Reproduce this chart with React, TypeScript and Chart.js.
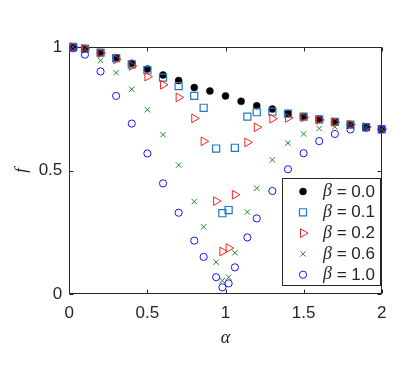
import React, { useEffect, useRef } from 'react';
import { Chart, registerables } from 'chart.js';
import { drawPoint } from 'chart.js/helpers';

Chart.register(...registerables);

// ---- data ----
const alphaFull = [0.025, 0.1, 0.2, 0.3, 0.4, 0.5, 0.6, 0.7, 0.8, 0.9, 1.0, 1.1, 1.2, 1.3, 1.4, 1.5, 1.6, 1.7, 1.8, 1.9, 2.0];
const alphaDip = [0.025, 0.1, 0.2, 0.3, 0.4, 0.5, 0.6, 0.7, 0.8, 0.86, 0.94, 0.98, 1.02, 1.06, 1.14, 1.2, 1.3, 1.4, 1.5, 1.6, 1.7, 1.8, 1.9, 2.0];

const fBeta00 = [1.0, 0.993, 0.977, 0.957, 0.934, 0.911, 0.887, 0.864, 0.836, 0.822, 0.802, 0.78, 0.762, 0.749, 0.731, 0.718, 0.707, 0.697, 0.686, 0.676, 0.667];
const fBeta01 = [1.0, 0.993, 0.977, 0.955, 0.93, 0.906, 0.876, 0.842, 0.802, 0.754, 0.589, 0.327, 0.34, 0.592, 0.718, 0.736, 0.738, 0.73, 0.718, 0.707, 0.697, 0.686, 0.676, 0.667];
const fBeta02 = [1.0, 0.993, 0.975, 0.95, 0.923, 0.88, 0.847, 0.796, 0.711, 0.618, 0.376, 0.172, 0.186, 0.402, 0.614, 0.675, 0.71, 0.713, 0.715, 0.705, 0.696, 0.686, 0.676, 0.667];
const fBeta06 = [1.0, 0.99, 0.946, 0.896, 0.829, 0.746, 0.645, 0.522, 0.374, 0.272, 0.129, 0.054, 0.068, 0.167, 0.332, 0.428, 0.543, 0.611, 0.648, 0.67, 0.677, 0.684, 0.674, 0.667];
const fBeta10 = [0.995, 0.969, 0.901, 0.802, 0.69, 0.569, 0.448, 0.329, 0.216, 0.15, 0.068, 0.027, 0.043, 0.108, 0.229, 0.306, 0.417, 0.505, 0.57, 0.619, 0.648, 0.666, 0.673, 0.667];

const betaLabels = ['0.0', '0.1', '0.2', '0.6', '1.0'];
const xTicks = [0, 0.5, 1, 1.5, 2];
const yTicks = [0, 0.5, 1];

// ---- styles ----
const frameColor = '#262626';
const sansFont = '"Liberation Sans", Arial, sans-serif';
const serifFont = '"Liberation Serif", "DejaVu Serif", serif';

const toPoints = (xs: number[], ys: number[]) => xs.map((x, i) => ({ x, y: ys[i] }));

const framePlugin = {
  id: 'matlabFrame',
  beforeDatasetsDraw(chart: any) {
    const { ctx, chartArea: a, scales } = chart;
    const l = Math.round(a.left) + 0.5;
    const r = Math.round(a.right) - 0.5;
    const t = Math.round(a.top) + 0.5;
    const b = Math.round(a.bottom) - 0.5;
    ctx.save();
    ctx.strokeStyle = frameColor;
    ctx.lineWidth = 1;
    ctx.strokeRect(l, t, r - l, b - t);
    const tl = 4;
    ctx.beginPath();
    for (const v of xTicks) {
      const px = Math.round(scales.x.getPixelForValue(v)) + 0.5;
      ctx.moveTo(px, b); ctx.lineTo(px, b - tl);
      ctx.moveTo(px, t); ctx.lineTo(px, t + tl);
    }
    for (const v of yTicks) {
      const py = Math.round(scales.y.getPixelForValue(v)) + 0.5;
      ctx.moveTo(l, py); ctx.lineTo(l + tl, py);
      ctx.moveTo(r, py); ctx.lineTo(r - tl, py);
    }
    ctx.stroke();
    ctx.restore();
  },
};

const legendPlugin = {
  id: 'insideLegend',
  afterDatasetsDraw(chart: any) {
    const { ctx, chartArea: a } = chart;
    const w = 98;
    const h = 107;
    const right = Math.round(a.right) - 1.5;
    const bottom = Math.round(a.bottom) - 8.5;
    const left = right - w;
    const top = bottom - h;
    ctx.save();
    ctx.fillStyle = '#ffffff';
    ctx.fillRect(left, top, w, h);
    ctx.strokeStyle = frameColor;
    ctx.lineWidth = 1;
    ctx.strokeRect(left, top, w, h);
    const rowH = 20.8;
    const y0 = top + 13;
    chart.data.datasets.forEach((ds: any, i: number) => {
      const y = y0 + i * rowH;
      const mx = left + 20.5;
      ctx.fillStyle = ds.pointBackgroundColor;
      ctx.strokeStyle = ds.pointBorderColor;
      ctx.lineWidth = ds.pointBorderWidth;
      drawPoint(ctx, {
        pointStyle: ds.pointStyle,
        rotation: ds.pointRotation || 0,
        radius: ds.pointRadius,
        borderWidth: ds.pointBorderWidth,
      } as any, mx, y);
      let tx = left + 40.5;
      ctx.fillStyle = frameColor;
      ctx.textBaseline = 'middle';
      ctx.textAlign = 'left';
      ctx.font = `italic 18px ${serifFont}`;
      ctx.fillText('β', tx, y);
      tx += ctx.measureText('β').width;
      ctx.font = `17px ${sansFont}`;
      ctx.fillText(' = ' + betaLabels[i], tx, y + 0.5);
    });
    ctx.restore();
  },
};

export default function App() {
  const canvasRef = useRef<HTMLCanvasElement | null>(null);

  useEffect(() => {
    if (!canvasRef.current) return;
    const common = { showLine: false, clip: false as any, pointHoverRadius: 0 };
    const chart = new Chart(canvasRef.current, {
      type: 'scatter',
      data: {
        datasets: [
          {
            ...common,
            label: 'β = ' + betaLabels[0],
            data: toPoints(alphaFull, fBeta00),
            pointStyle: 'circle',
            pointRadius: 3.5,
            pointBackgroundColor: '#000000',
            pointBorderColor: '#000000',
            pointBorderWidth: 0.5,
            order: 4,
          },
          {
            ...common,
            label: 'β = ' + betaLabels[1],
            data: toPoints(alphaDip, fBeta01),
            pointStyle: 'rect',
            pointRadius: 5,
            pointBackgroundColor: 'rgba(0,0,0,0)',
            pointBorderColor: '#1f78c1',
            pointBorderWidth: 1.2,
            order: 3,
          },
          {
            ...common,
            label: 'β = ' + betaLabels[2],
            data: toPoints(alphaDip, fBeta02),
            pointStyle: 'triangle',
            pointRotation: 90,
            pointRadius: 5,
            pointBackgroundColor: 'rgba(0,0,0,0)',
            pointBorderColor: '#ff2020',
            pointBorderWidth: 1,
            order: 2,
          },
          {
            ...common,
            label: 'β = ' + betaLabels[3],
            data: toPoints(alphaDip, fBeta06),
            pointStyle: 'crossRot',
            pointRadius: 3.8,
            pointBackgroundColor: 'rgba(0,0,0,0)',
            pointBorderColor: '#1e8c1e',
            pointBorderWidth: 1,
            order: 1,
          },
          {
            ...common,
            label: 'β = ' + betaLabels[4],
            data: toPoints(alphaDip, fBeta10),
            pointStyle: 'circle',
            pointRadius: 3.6,
            pointBackgroundColor: 'rgba(0,0,0,0)',
            pointBorderColor: '#1515ff',
            pointBorderWidth: 1,
            order: 0,
          },
        ] as any,
      },
      options: {
        animation: false,
        responsive: false,
        devicePixelRatio: 1,
        layout: { padding: { top: 47, right: 25.3, left: 0, bottom: 0 } },
        plugins: {
          legend: { display: false },
          tooltip: { enabled: false },
        },
        events: [],
        scales: {
          x: {
            type: 'linear',
            min: 0,
            max: 2,
            afterBuildTicks: (s: any) => { s.ticks = xTicks.map((v) => ({ value: v })); },
            afterFit: (s: any) => { s.height = 72; },
            grid: { display: false, drawTicks: false },
            border: { display: false },
            ticks: {
              color: frameColor,
              font: { family: sansFont, size: 17 },
              padding: 9,
              maxRotation: 0,
              callback: (v: any) => String(v),
            },
            title: {
              display: true,
              text: 'α',
              color: frameColor,
              font: { family: serifFont, size: 18, style: 'italic' },
              padding: { top: 0, bottom: 17 },
            },
          },
          y: {
            type: 'linear',
            min: 0,
            max: 1,
            afterBuildTicks: (s: any) => { s.ticks = yTicks.map((v) => ({ value: v })); },
            afterFit: (s: any) => { s.width = 69.3; },
            grid: { display: false, drawTicks: false },
            border: { display: false },
            ticks: {
              color: frameColor,
              font: { family: sansFont, size: 17 },
              padding: 7,
              callback: (v: any) => String(v),
            },
            title: {
              display: true,
              text: 'f',
              color: frameColor,
              font: { family: serifFont, size: 17, style: 'italic' },
              padding: { top: 11, bottom: 0 },
            },
          },
        },
      } as any,
      plugins: [framePlugin, legendPlugin],
    });
    return () => chart.destroy();
  }, []);

  return (
    <div style={{ position: 'absolute', left: 0, top: 0, width: 407, height: 366, background: '#fff' }}>
      <canvas ref={canvasRef} width={407} height={366} />
    </div>
  );
}
